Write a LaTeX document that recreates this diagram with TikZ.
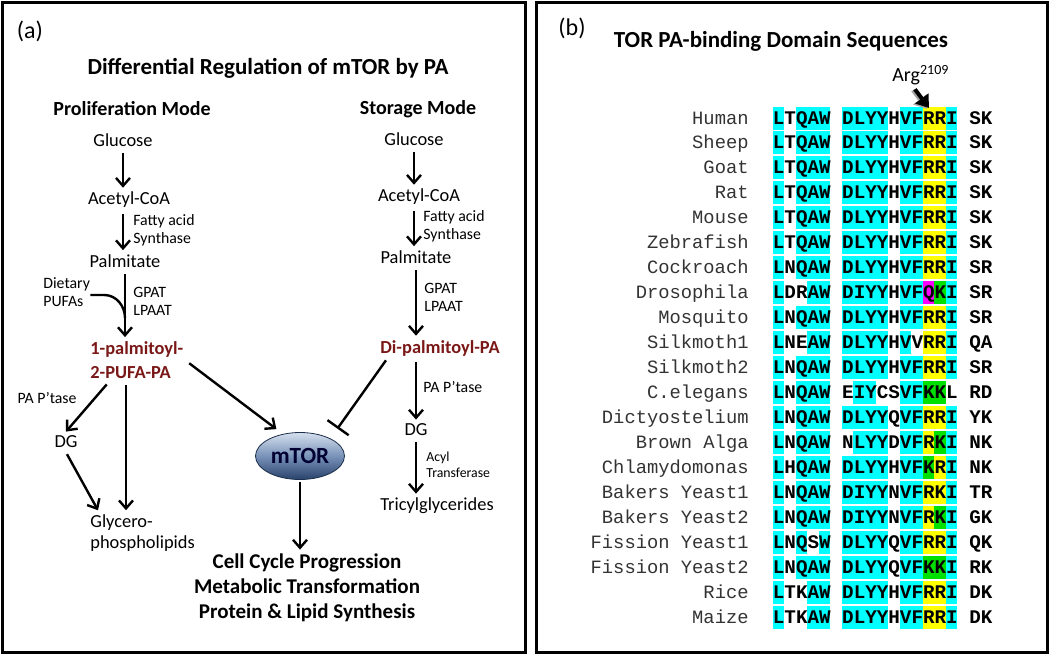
\documentclass[tikz,border=0pt]{standalone}
\usepackage{fontspec}
\setmainfont{Carlito}
\newfontfamily\seqfont{Liberation Mono}
\usetikzlibrary{shapes.geometric,arrows.meta,calc}

\definecolor{parred}{RGB}{122,24,24}
\definecolor{hlc}{RGB}{0,255,255}
\definecolor{hly}{RGB}{255,255,0}
\definecolor{hlg}{RGB}{0,224,0}
\definecolor{hlm}{RGB}{255,0,255}
\definecolor{hlw}{RGB}{255,255,255}
\definecolor{mtortop}{RGB}{214,224,238}
\definecolor{mtormid}{RGB}{120,146,184}
\definecolor{mtorbot}{RGB}{40,66,108}

\tikzset{
  frame/.style={line width=1.5pt},
  lbl/.style={font=\fontsize{9.2}{10.5}\selectfont, inner sep=2pt, align=center},
  enz/.style={font=\fontsize{7.9}{9}\selectfont, inner sep=0pt, align=left, anchor=west},
  small/.style={font=\fontsize{6.9}{8}\selectfont, inner sep=0pt, align=left, anchor=west},
  hdr/.style={font=\bfseries\fontsize{10}{12}\selectfont, inner sep=0pt},
  ttl/.style={font=\bfseries\fontsize{11.5}{13}\selectfont, inner sep=0pt},
  panel/.style={font=\fontsize{12}{14}\selectfont, inner sep=0pt},
  pa/.style={font=\bfseries\fontsize{9.2}{12}\selectfont, text=parred, inner sep=2pt, align=left},
  outtxt/.style={font=\bfseries\fontsize{10.5}{12.5}\selectfont, inner sep=2pt, align=center},
  mtorbox/.style={ellipse, minimum width=44.5pt, minimum height=23.5pt, inner sep=0pt,
    top color=mtortop, bottom color=mtorbot, middle color=mtormid, draw=mtorbot!70!black, line width=0.4pt,
    font=\bfseries\fontsize{11.6}{13}\selectfont, text=black!80!blue},
  flow/.style={-{Straight Barb[length=4pt,width=7pt]}, line width=1.2pt, shorten <=1pt},
  inhib/.style={-{Bar[width=13pt]}, line width=1.2pt},
  spname/.style={font=\seqfont\fontsize{9.4}{10}\selectfont, text=black!80, inner sep=0pt},
  seqtxt/.style={font=\seqfont\bfseries\fontsize{9.63}{10}\selectfont, inner sep=0pt},
  argarrow/.style={-{Triangle[length=6pt,width=8pt]}, line width=2pt}
}

\begin{document}
\begin{tikzpicture}[x=0.5pt,y=-0.5pt]
\useasboundingbox (0,0) rectangle (1050,655);
\draw[frame] (2,2) rectangle (525,652);
\draw[frame] (536,2) rectangle (1047,652);

\node[panel] (pa) at (30,31) {(a)};
\node[ttl] (ta) at (268,68) {Differential Regulation of mTOR by PA};
\node[hdr] (prolif) at (132,109) {Proliferation Mode};
\node[hdr] (store) at (418,109) {Storage Mode};

\node[lbl] (gluL) at (123,140) {Glucose};
\node[lbl] (acoL) at (129,200) {Acetyl-CoA};
\node[lbl] (palL) at (125,261) {Palmitate};
\node[enz] (faL) at (133,230) {Fatty acid\\Synthase};
\node[enz] (dieL) at (43,292) {Dietary\\PUFAs};
\node[enz] (gpL) at (133,301) {GPAT\\LPAAT};
\node[pa, anchor=west] (paL) at (86,360) {1-palmitoyl-\\2-PUFA-PA};
\node[enz, anchor=center] (ptL) at (47,398) {PA P’tase};
\node[lbl] (dgL) at (66,442) {DG};
\node[lbl, align=left, anchor=west] (glyL) at (86,533) {Glycero-\\phospholipids};

\node[lbl] (gluR) at (414,139) {Glucose};
\node[lbl] (acoR) at (419,197) {Acetyl-CoA};
\node[lbl] (palR) at (416,257) {Palmitate};
\node[enz] (faR) at (423,226) {Fatty acid\\Synthase};
\node[enz] (gpR) at (424,297) {GPAT\\LPAAT};
\node[pa, align=center] (paR) at (440,348) {Di-palmitoyl-PA};
\node[enz] (ptR) at (423,387) {PA P’tase};
\node[lbl] (dgR) at (416,430) {DG};
\node[small] (atR) at (426,465) {Acyl\\Transferase};
\node[lbl] (triR) at (437,506) {Tricylglycerides};

\node[mtorbox] (mtor) at (300,456) {mTOR};
\node[outtxt] (out) at (307,588) {Cell Cycle Progression\\Metabolic Transformation\\Protein \& Lipid Synthesis};

\draw[flow] (gluL) -- (gluL |- acoL.north);
\draw[flow] (gluL |- acoL.south) -- (gluL |- palL.north);
\draw[flow] (palL) -- (palL |- paL.north);
\coordinate (pufin) at (125,318);
\draw[line width=1.2pt] ([yshift=-1.5pt]dieL.east) -- ++(14,0) .. controls +(12,0) and +(0,-12) .. (pufin);
\coordinate (pdg) at ([xshift=11pt]paL.south west);
\coordinate (pdn) at ([xshift=20pt]paL.south west);
\draw[flow] (pdg) -- (dgL.north);
\draw[flow] (pdn) -- (pdn |- glyL.north);
\draw[flow] (dgL.south) -- ([xshift=6pt]glyL.north west);
\draw[flow, shorten >=4pt] ([yshift=-1pt]paL.east) -- (mtor.128);
\draw[inhib, shorten >=6pt] ([xshift=5pt]paR.south west) -- (mtor.30);
\draw[flow] (mtor) -- (mtor |- out.north);

\draw[flow] (gluR) -- (gluR |- acoR.north);
\draw[flow] (gluR |- acoR.south) -- (gluR |- palR.north);
\draw[flow] (palR) -- (palR |- paR.north);
\draw[flow] (dgR |- paR.south) -- (dgR);
\draw[flow] (dgR) -- (dgR |- triR.north);

\node[panel] (pb) at (572,28) {(b)};
\node[ttl] (tb) at (781,41) {TOR PA-binding Domain Sequences};

\foreach \name/\ba/\bb/\tl/\pat [count=\i] in {
  Human/LTQAW/DLYYHVFRRI/SK/{c,w,c,c,c,c,c,c,c,w,c,c,y,y,c},
  Sheep/LTQAW/DLYYHVFRRI/SK/{c,w,c,c,c,c,c,c,c,w,c,c,y,y,c},
  Goat/LTQAW/DLYYHVFRRI/SK/{c,w,c,c,c,c,c,c,c,w,c,c,y,y,c},
  Rat/LTQAW/DLYYHVFRRI/SK/{c,w,c,c,c,c,c,c,c,w,c,c,y,y,c},
  Mouse/LTQAW/DLYYHVFRRI/SK/{c,w,c,c,c,c,c,c,c,w,c,c,y,y,c},
  Zebrafish/LTQAW/DLYYHVFRRI/SK/{c,w,c,c,c,c,c,c,c,w,c,c,y,y,c},
  Cockroach/LNQAW/DLYYHVFRRI/SR/{c,w,c,c,c,c,c,c,c,w,c,c,y,y,c},
  Drosophila/LDRAW/DIYYHVFQKI/SR/{c,w,w,c,c,c,c,c,c,w,c,c,m,g,c},
  Mosquito/LNQAW/DLYYHVFRRI/SR/{c,w,c,c,c,c,c,c,c,w,c,c,y,y,c},
  Silkmoth1/LNEAW/DLYYHVVRRI/QA/{c,w,w,c,c,c,c,c,c,w,c,w,y,y,c},
  Silkmoth2/LNQAW/DLYYHVFRRI/SR/{c,w,c,c,c,c,c,c,c,w,c,c,y,y,c},
  C.elegans/LNQAW/EIYCSVFKKL/RD/{c,w,c,c,c,w,c,c,w,w,c,c,g,g,w},
  Dictyostelium/LNQAW/DLYYQVFRRI/YK/{c,w,c,c,c,c,c,c,c,w,c,c,y,y,c},
  Brown Alga/LNQAW/NLYYDVFRKI/NK/{c,w,c,c,c,w,c,c,c,w,c,c,y,g,c},
  Chlamydomonas/LHQAW/DLYYHVFKRI/NK/{c,w,c,c,c,c,c,c,c,w,c,c,g,y,c},
  Bakers Yeast1/LNQAW/DIYYNVFRKI/TR/{c,w,c,c,c,c,c,c,c,w,c,c,y,y,c},
  Bakers Yeast2/LNQAW/DIYYNVFRKI/GK/{c,w,c,c,c,c,c,c,c,w,c,c,y,g,c},
  Fission Yeast1/LNQSW/DLYYQVFRRI/QK/{c,w,c,w,c,c,c,c,c,w,c,c,y,y,c},
  Fission Yeast2/LNQAW/DLYYQVFKKI/RK/{c,w,c,c,c,c,c,c,c,w,c,c,g,g,c},
  Rice/LTKAW/DLYYHVFRRI/DK/{c,w,w,c,c,c,c,c,c,w,c,c,y,y,c},
  Maize/LTKAW/DLYYHVFRRI/DK/{c,w,w,c,c,c,c,c,c,w,c,c,y,y,c}}
{
  \pgfmathsetmacro\ry{118+24.95*(\i-1)}
  \foreach \cc [count=\k] in \pat {
    \pgfmathsetmacro\cx{772.5+11.55*(\k-1+(\k>5))}
    \fill[hl\cc] (\cx,\ry-11.5) rectangle ++(11.55,23);
  }
  \node[spname, anchor=base east] (sp\i) at (749,\ry+6) {\name};
  \node[seqtxt, anchor=base west] (sa\i) at (772.5,\ry+6) {\ba};
  \node[seqtxt, anchor=base west] (sb\i) at (841.8,\ry+6) {\bb};
  \node[seqtxt, anchor=base west] (st\i) at (968.9,\ry+6) {\tl};
}

\node[font=\fontsize{10}{12}\selectfont, inner sep=0pt, anchor=base west] (arg) at (892,81.5) {Arg\textsuperscript{2109}};
\coordinate (r2109) at (929,108);
\draw[argarrow, black!35, transform canvas={xshift=-1pt,yshift=-0.5pt}] ([xshift=-3pt,yshift=-2pt]arg.south) -- (r2109);
\draw[argarrow] ([xshift=-3pt,yshift=-2pt]arg.south) -- (r2109);
\end{tikzpicture}
\end{document}
